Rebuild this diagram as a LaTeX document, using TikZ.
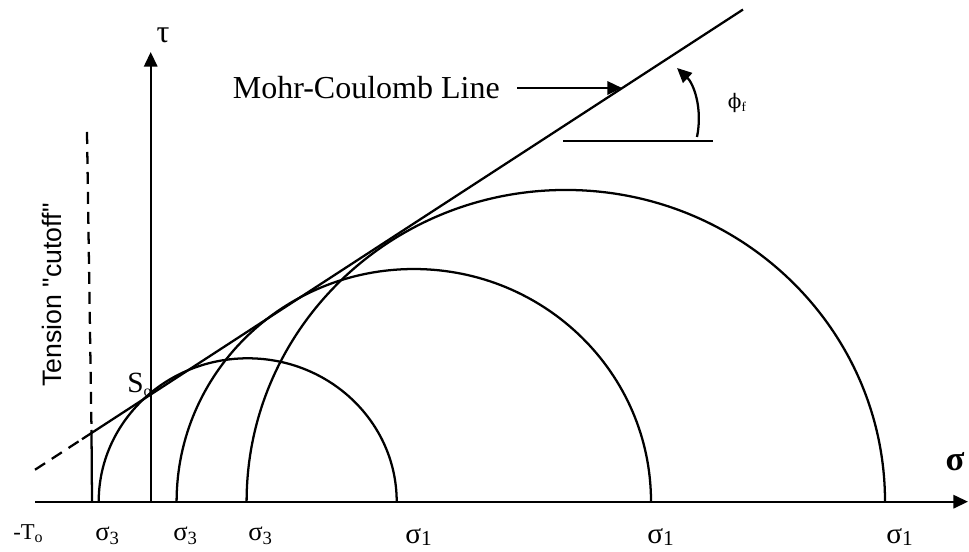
\documentclass[tikz,border=0pt]{standalone}
\usepackage{fontspec}
\setmainfont{Liberation Serif}
\newfontfamily\sansf{Liberation Sans}
\newfontfamily\dvs{DejaVu Serif}
\usetikzlibrary{arrows.meta}
\newcommand{\fsz}[1]{\fontsize{#1}{#1}\selectfont}
\newcommand{\sigsub}[1]{σ\raisebox{-2.5pt}{\fsz{14}#1}}
\newcommand{\sigbig}[1]{{\fsz{22}σ}\raisebox{-1.5pt}{\fsz{16}#1}}
\begin{document}
\begin{tikzpicture}[x=0.75pt,y=0.75pt,
  ln/.style={line width=1.7pt},
  tipped/.style={-{Triangle[length=11pt,width=10pt]}},
  lbl/.style={inner sep=0pt}
]
\useasboundingbox (0,0) rectangle (969,552);
% axes
\coordinate (ox) at (35,50.3);
\coordinate (sx) at (968,50.3);
\coordinate (tb) at (150.7,50.3);
\coordinate (tt) at (150.7,500);
\draw[ln,tipped] (ox) -- (sx);
\draw[ln,tipped] (tb) -- (tt);
% tension cutoff
\coordinate (ct) at (87,420);
\coordinate (cm) at (91.5,122);
\coordinate (cb) at (92,50.3);
\draw[ln,dashed,dash pattern=on 9pt off 6pt] (ct) -- (cm);
\draw[ln] (cm) -- (cb);
% Mohr-Coulomb line
\coordinate (m0) at (35,82.25);
\coordinate (m1) at (82,112.8);
\coordinate (m2) at (743,542.45);
\draw[ln,dashed,dash pattern=on 9pt off 6pt] (m0) -- (m1);
\draw[ln] (m1) -- (m2);
% circles
\coordinate (c1) at (396.7,50.3);
\coordinate (c2) at (651,50.3);
\coordinate (c3) at (885,50.3);
\draw[ln] (c1) arc[start angle=0,end angle=180,x radius=111.75pt,y radius=107.55pt];
\draw[ln] (c2) arc[start angle=0,end angle=180,x radius=177.9pt,y radius=174.5pt];
\draw[ln] (c3) arc[start angle=0,end angle=180,x radius=239.4pt,y radius=233.8pt];
% label arrow
\node[lbl,anchor=base east,font=\fsz{24}] (mcl) at (500,453) {Mohr-Coulomb Line};
\coordinate (mcs) at (517,464);
\coordinate (mcp) at (622,464);
\draw[ln,tipped] (mcs) -- (mcp);
% angle
\coordinate (h0) at (563,411);
\coordinate (h1) at (713,411);
\draw[ln] (h0) -- (h1);
\coordinate (a0) at (697,415);
\coordinate (a1) at (677,484);
\draw[ln,tipped] (a0) .. controls (703,445) and (693,469) .. (a1);
\node[lbl,font=\fsz{15}] (phi) at (737,449) {{\dvs ϕ}\raisebox{-2pt}{\fsz{10}f}};
% axis labels
\node[lbl,font=\fsz{24}] (tau) at (163,517) {τ};
\node[lbl,font=\bfseries\fsz{26}] (sig) at (955,90) {σ};
\node[lbl,font=\sansf\fsz{20},rotate=90] (tens) at (52,257) {Tension "cutoff"};
\node[lbl,anchor=base west,font=\fsz{22}] (so) at (127,159) {S\raisebox{-3pt}{\fsz{12}o}};
% bottom labels
\node[lbl,anchor=base west,font=\fsz{17}] (to) at (13,12) {-T\raisebox{-2pt}{\fsz{12}o}};
\node[lbl,anchor=base west,font=\fsz{20}] (s31) at (95,11) {\sigsub{3}};
\node[lbl,anchor=base west,font=\fsz{20}] (s32) at (173,11) {\sigsub{3}};
\node[lbl,anchor=base west,font=\fsz{20}] (s33) at (248,11) {\sigsub{3}};
\node[lbl,anchor=base west] (s11) at (405,8) {\sigbig{1}};
\node[lbl,anchor=base west] (s12) at (647,8) {\sigbig{1}};
\node[lbl,anchor=base west] (s13) at (886,8) {\sigbig{1}};
\end{tikzpicture}
\end{document}
